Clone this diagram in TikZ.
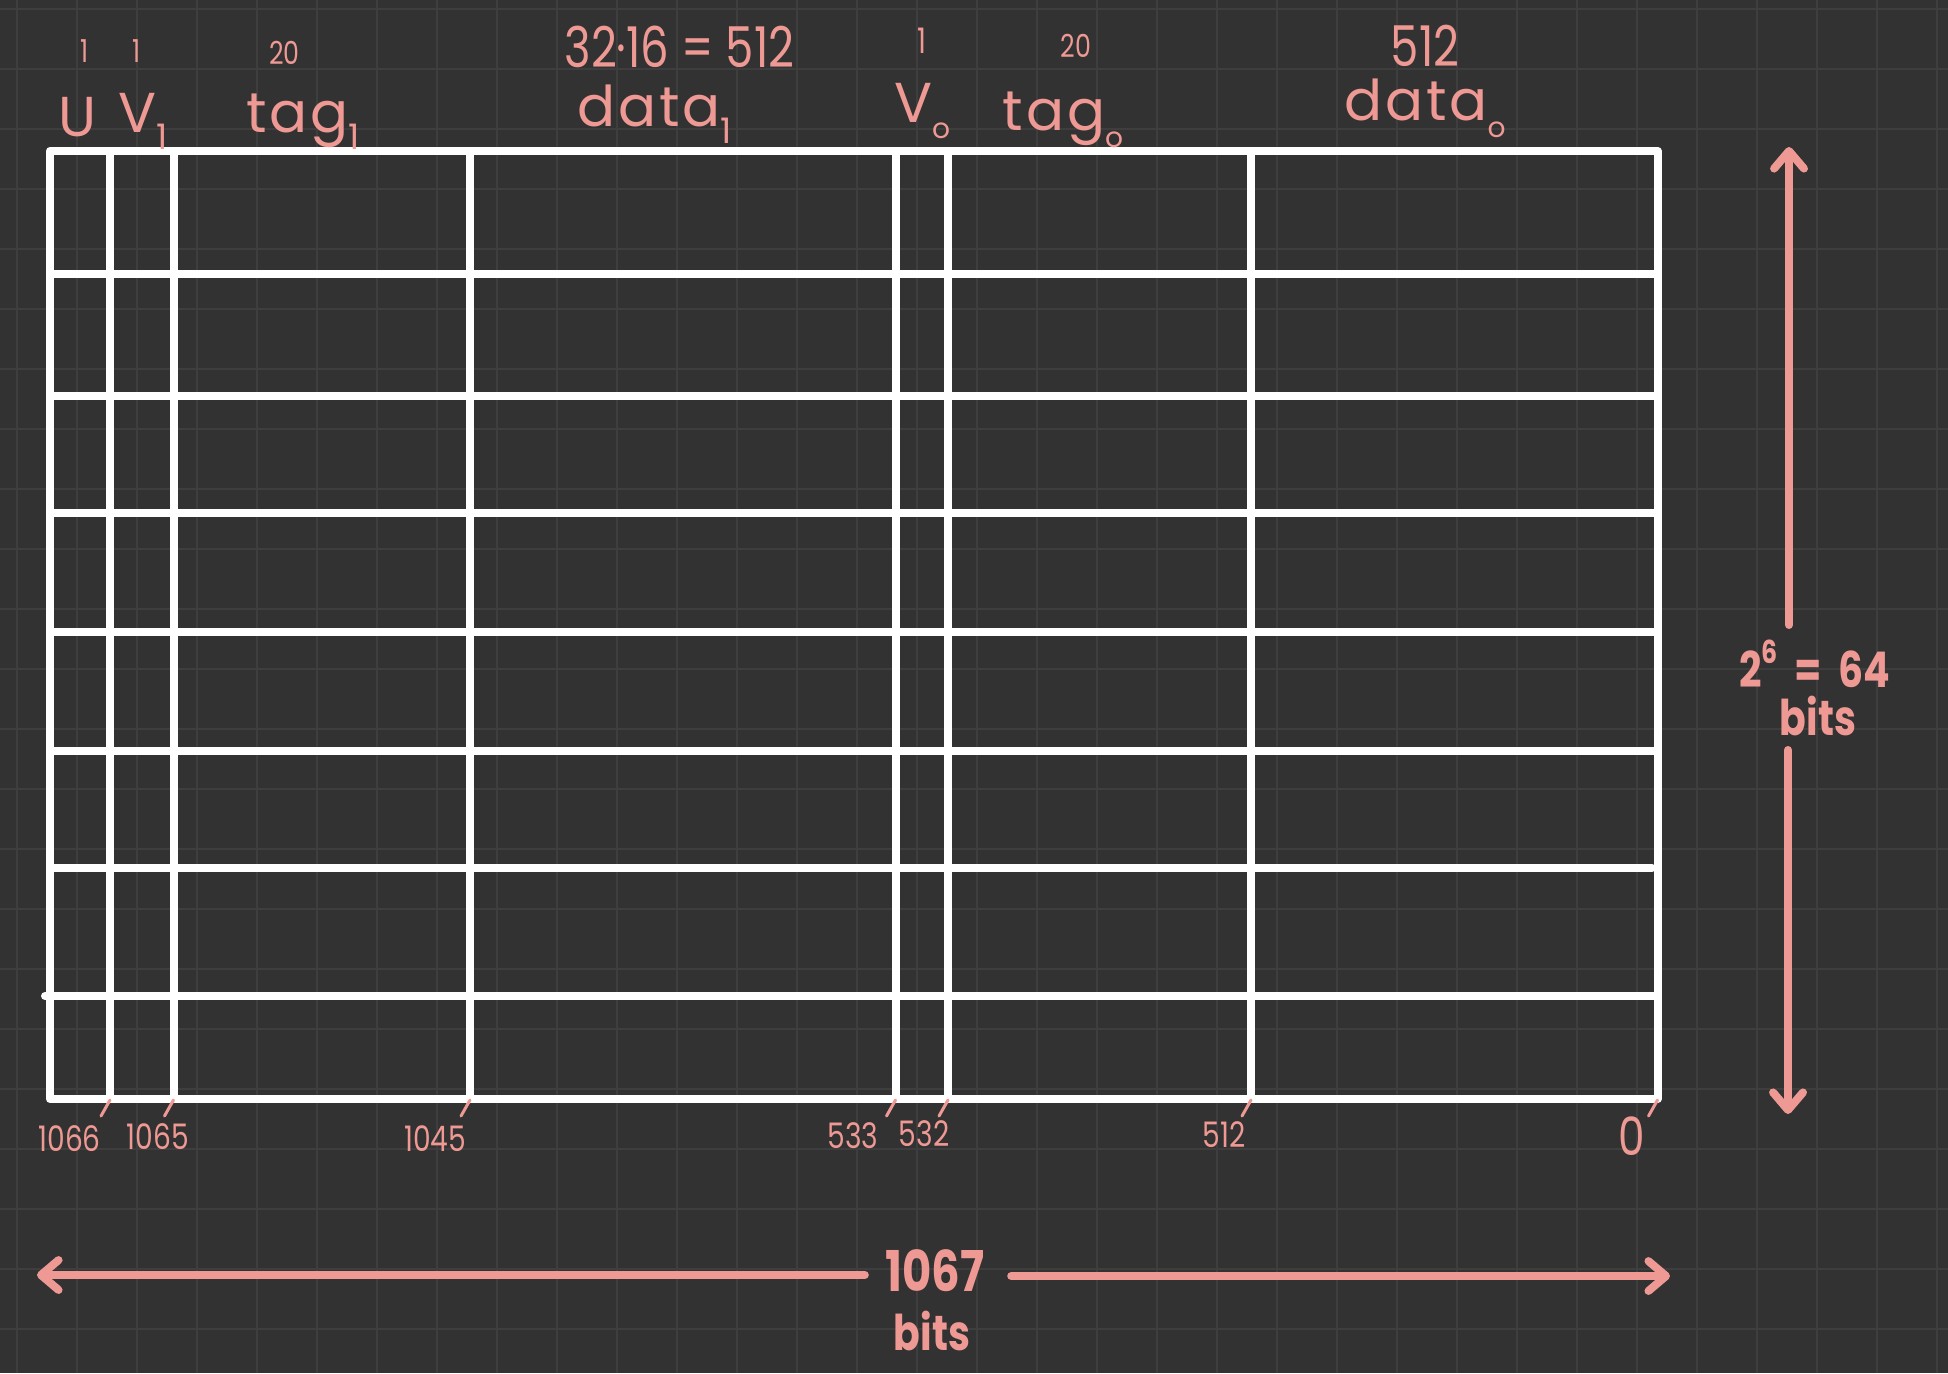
\documentclass[tikz,border=0pt]{standalone}
\usepackage{fontspec}
\setmainfont{Poppins}
\newfontfamily\hand[LetterSpace=5]{Poppins}
\newfontfamily\handn[FakeStretch=0.8]{Poppins}
\usetikzlibrary{arrows.meta}
\definecolor{bgc}{HTML}{323232}
\definecolor{gridc}{HTML}{3E3E3E}
\definecolor{pen}{HTML}{EE9994}
\newcommand\fs[1]{\fontsize{#1}{#1}\selectfont}
\newcommand\lowsub[2]{\raisebox{-0.3em}{\fs{#1}#2}}
\begin{document}
\begin{tikzpicture}[x=0.1mm,y=-0.1mm,
  tbl/.style={draw=white,line width=0.8mm,line cap=round,line join=round},
  gridline/.style={draw=gridc,line width=0.25mm},
  tickmark/.style={draw=pen,line width=0.3mm,line cap=round},
  arr/.style={draw=pen,line width=0.8mm,line cap=round,-{Straight Barb[length=5pt,width=8.5pt,round]}},
  lab/.style={text=pen,inner sep=0pt},
  word/.style={lab,font=\hand\fs{16}},
  dig/.style={lab,font=\handn\fs{#1}},
  big/.style={lab,font=\handn\bfseries\fs{#1}}
]
% background and grid
\fill[bgc] (0,0) rectangle (1948,1373);
\useasboundingbox (0,0) rectangle (1948,1373);
\foreach \i in {0,...,32} \draw[gridline] ({17+60*\i},0) -- ({17+60*\i},1373);
\foreach \i in {0,...,22} \draw[gridline] (0,{9+60*\i}) -- (1948,{9+60*\i});

% table
\draw[tbl] (50,151) rectangle (1657.5,1099);
\foreach \x in {110,173.5,470,895.5,948,1251}
  \draw[tbl] (\x,151) -- (\x,1099);
\foreach \y in {273.5,396,513,632,751}
  \draw[tbl] (50,\y) -- (1657.5,\y);
\draw[tbl] (50,868) -- (1652,868);
\draw[tbl] (45,996) -- (1657.5,996);

% bit position ticks
\foreach \x in {110,173.5,470,895.5,948,1251,1657.5}
  \draw[tickmark] (\x,1100) -- ({\x-9},1116);

% top size labels
\node[dig=9] (sU) at (84.5,51) {1};
\node[dig=9] (sV1) at (136.7,51) {1};
\node[dig=9] (sT1) at (284.5,53) {20};
\node[dig=16] (sD1) at (679.5,47) {32·16 = 512};
\node[dig=10] (sV0) at (922,41) {1};
\node[dig=9] (sT0) at (1076,46) {20};
\node[dig=16] (sD0) at (1425,46) {512};

% field names
\node[word] (fU) at (77,117) {U};
\node[word] (fV1) at (143.5,121) {V\lowsub{10}{1}};
\node[word] (fT1) at (303,122) {tag\lowsub{10}{1}};
\node[word] (fD1) at (655,114) {data\lowsub{10}{1}};
\node[word] (fV0) at (922,111) {V\lowsub{8}{o}};
\node[word] (fT0) at (1063,120) {tag\lowsub{8}{o}};
\node[word] (fD0) at (1425,108) {data\lowsub{8}{o}};

% bit indices
\node[dig=10] (b1066) at (69.6,1139) {1066};
\node[dig=10] (b1065) at (158,1137) {1065};
\node[dig=10] (b1045) at (435,1139) {1045};
\node[dig=10] (b533) at (853,1136) {533};
\node[dig=10] (b532) at (924,1134) {532};
\node[dig=10] (b512) at (1224,1135) {512};
\node[dig=15] (b0) at (1632,1136) {0};

% width arrow
\node[big=16] (wnum) at (935,1271) {1067};
\node[big=14] (wbits) at (932,1331) {bits};
\coordinate (wl) at (37,1275);
\coordinate (wr) at (1670,1276);
\draw[arr] (wnum.west) ++(-20,4) -- (wl);
\draw[arr] (wnum.east) ++(26,5) -- (wr);

% height arrow
\node[big=14] (hnum) at (1815,664) {2\raisebox{0.5em}{\fs{9}6}\ \ =\ \ 64};
\node[big=14] (hbits) at (1818,716) {bits};
\coordinate (ht) at (1789,147);
\coordinate (hb) at (1788,1114);
\draw[arr] (1789,625) -- (ht);
\draw[arr] (1788,750) -- (hb);
\end{tikzpicture}
\end{document}
